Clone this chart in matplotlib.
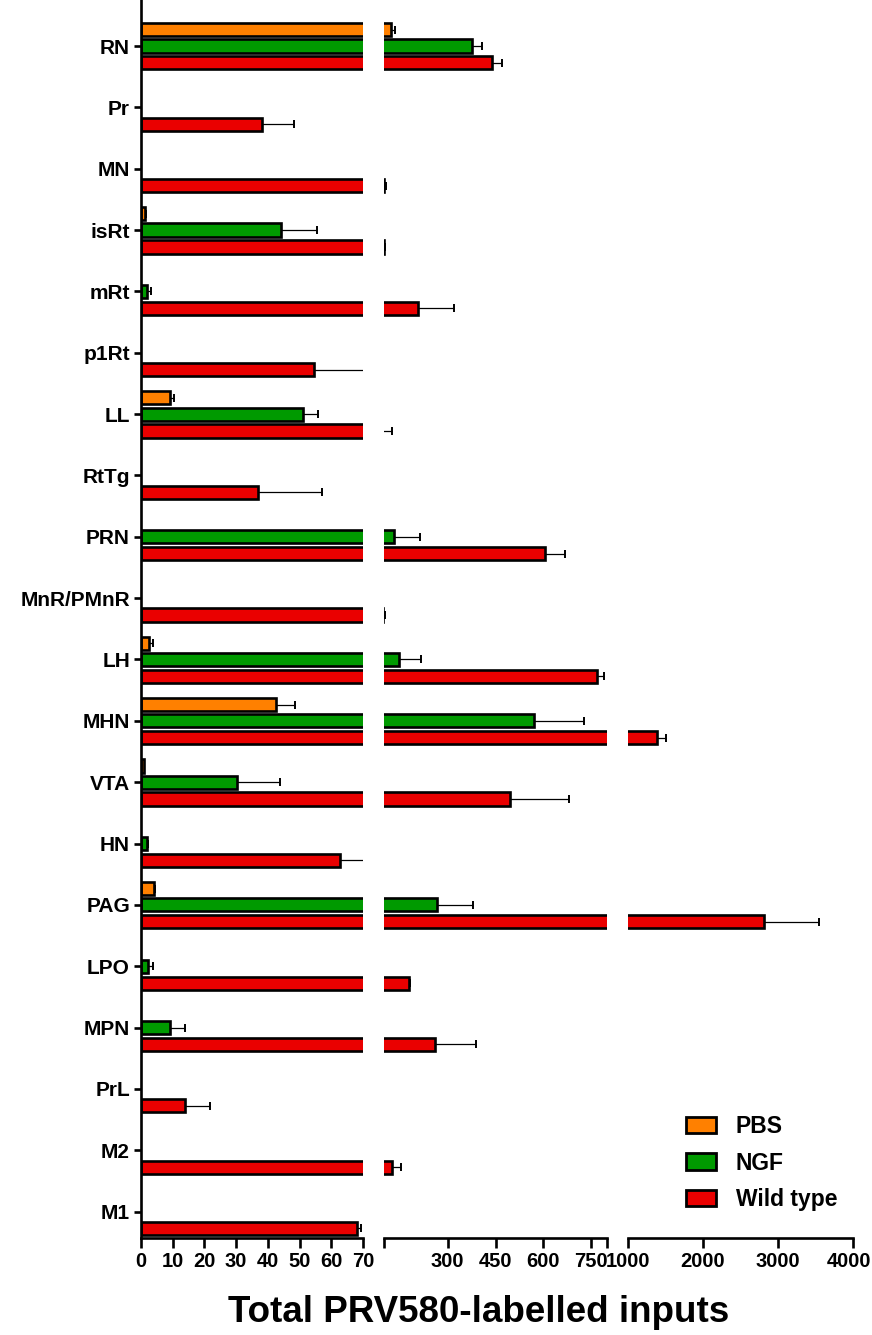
import numpy as np
import matplotlib
matplotlib.use('Agg')
import matplotlib.pyplot as plt
from matplotlib.patches import Patch
from matplotlib.transforms import ScaledTranslation

nan = np.nan

categories = ['RN', 'Pr', 'MN', 'isRt', 'mRt', 'p1Rt', 'LL', 'RtTg', 'PRN', 'MnR/PMnR',
              'LH', 'MHN', 'VTA', 'HN', 'PAG', 'LPO', 'MPN', 'PrL', 'M2', 'M1']

pbs_mean = [121, nan, nan, 1.2, nan, nan, 9.3, nan, nan, nan,
            2.5, 42.7, 0.8, nan, 4.0, nan, nan, nan, nan, nan]
pbs_err = [13, nan, nan, 0.3, nan, nan, 1.0, nan, nan, nan,
           1.2, 5.8, 0.2, nan, 0.5, nan, nan, nan, nan, nan]

ngf_mean = [375, nan, nan, 44.0, 1.9, nan, 51.1, nan, 131, nan,
            147, 572, 30.3, 1.9, 266, 2.3, 9.0, nan, nan, nan]
ngf_err = [34, nan, nan, 11.4, 1.1, nan, 4.7, nan, 82, nan,
           68, 156, 13.4, 0.3, 112, 1.5, 4.9, nan, nan, nan]

wt_mean = [438, 38.3, 101, 100.5, 206, 54.6, 94, 36.9, 604, 98,
           769, 1381, 494, 62.6, 2811, 179, 260, 14.0, 126, 68.0]
wt_err = [31, 10.1, 6, 1.5, 114, 20, 31, 20.2, 64, 5,
          21, 124, 188, 10, 733, 3, 130, 7.9, 28, 1.5]

series_names = ['PBS', 'NGF', 'Wild type']
series_colors = ['#FF8000', '#009A00', '#EA0000']

seg_limits = [(0, 70), (100, 800), (1000, 4000)]
seg_ticks = [[0, 10, 20, 30, 40, 50, 60, 70],
             [100, 300, 450, 600, 750, 800],
             [1000, 2000, 3000, 4000]]
seg_ticklabels = [['0', '10', '20', '30', '40', '50', '60', '70'],
                  ['', '300', '450', '600', '750', ''],
                  ['1000', '2000', '3000', '4000']]

W, H = 872, 1335
fig = plt.figure(figsize=(W / 100, H / 100), dpi=100)

seg_px = [(141, 363), (384, 607), (628, 853)]
bottom_px, top_px = 1238, 0
axes = []
for (x0, x1) in seg_px:
    ax = fig.add_axes([x0 / W, (H - bottom_px) / H, (x1 - x0) / W, (bottom_px - top_px) / H])
    axes.append(ax)

means = [pbs_mean, ngf_mean, wt_mean]
errs = [pbs_err, ngf_err, wt_err]
offsets = [-0.265, 0.0, 0.275]
bar_h = 0.215
ypos = np.arange(len(categories))

tick_font = ['Liberation Sans Narrow', 'Liberation Sans', 'DejaVu Sans']

for k, ax in enumerate(axes):
    for j in range(3):
        m = np.array(means[j], dtype=float)
        e = np.array(errs[j], dtype=float)
        mask = ~np.isnan(m)
        yy = ypos[mask] + offsets[j]
        ax.barh(yy, m[mask], height=bar_h, color=series_colors[j], edgecolor='black',
                linewidth=1.9, zorder=2)
        ax.errorbar(m[mask], yy, xerr=[np.zeros(mask.sum()), e[mask]], fmt='none',
                    ecolor='black', elinewidth=0.9, capsize=2.8, capthick=1.4, zorder=1)
    ax.set_xlim(*seg_limits[k])
    ax.set_ylim(len(categories) - 1 + 0.43, -0.75)
    ax.set_xticks(seg_ticks[k])
    ax.set_xticklabels(seg_ticklabels[k], fontfamily=tick_font, fontweight='bold', fontsize=14.5)
    for s in ['top', 'right']:
        ax.spines[s].set_visible(False)
    ax.spines['bottom'].set_linewidth(1.9)
    ax.spines['left'].set_linewidth(1.9)
    ax.tick_params(axis='x', direction='out', length=7, width=1.9, pad=3)
    if k == 0:
        ax.set_yticks(ypos)
        ax.set_yticklabels(categories, fontfamily=['Liberation Sans', 'DejaVu Sans'],
                           fontweight='bold', fontsize=15)
        ax.tick_params(axis='y', direction='out', length=5, width=1.9, pad=3)
    else:
        ax.spines['left'].set_visible(False)
        ax.set_yticks([])

# nudge the last tick label so it stays inside the canvas
last = axes[2].get_xticklabels()[-1]
last.set_transform(last.get_transform() + ScaledTranslation(-0.04, 0, fig.dpi_scale_trans))

fig.text(479 / W, 1 - 1312 / H, 'Total PRV580-labelled inputs', ha='center', va='center',
         fontfamily=['Liberation Sans', 'DejaVu Sans'], fontweight='bold', fontsize=26.5)

handles = [Patch(facecolor=c, edgecolor='black', linewidth=2.0) for c in series_colors]
fig.legend(handles, series_names, loc='upper left',
           bbox_to_anchor=(675 / W, 1 - 1104 / H), frameon=False, borderpad=0,
           handlelength=1.3, handleheight=0.7, handletextpad=0.85, labelspacing=0.57,
           prop={'family': 'Liberation Sans', 'weight': 'bold', 'size': 16.5})

fig.savefig('out.png', dpi=100)
